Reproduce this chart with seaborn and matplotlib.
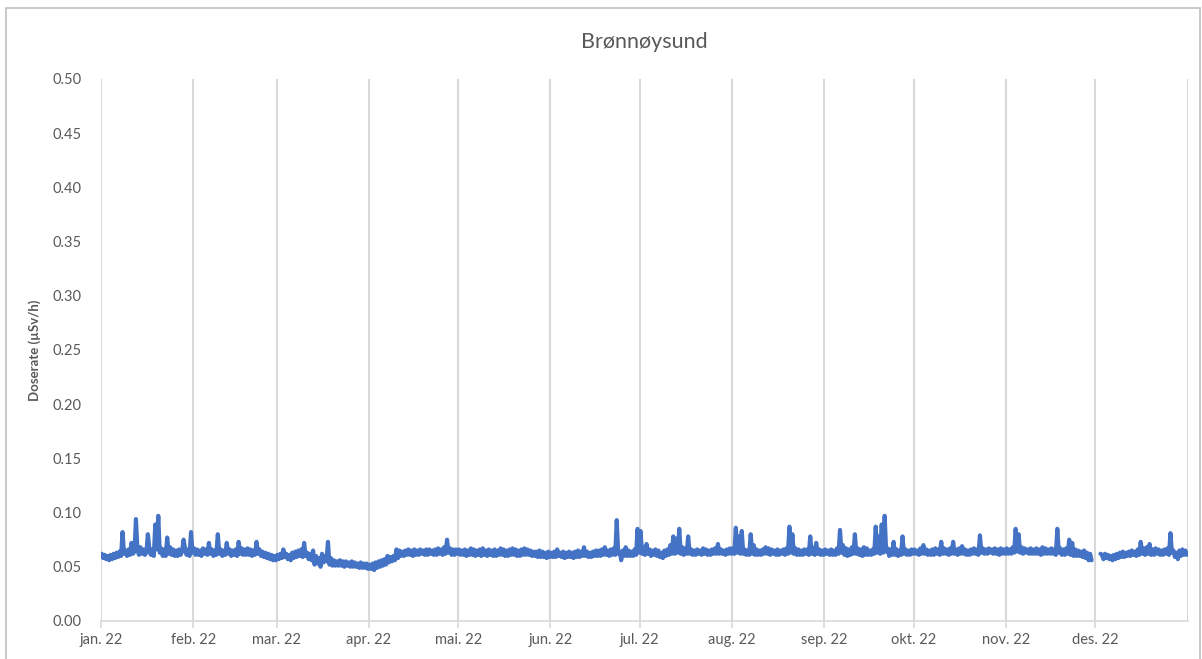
import matplotlib
matplotlib.use('Agg')
import matplotlib.pyplot as plt
from matplotlib.patches import Rectangle
import numpy as np
import pandas as pd
import seaborn as sns

# dose rate, two readings per day, in 0.001 uSv/h (None = no data)
jan = [62, 58, 61, 57, 60, 56, 61, 57, 62, 58, 63, 59, 64, 60, 82, 62, 65, 60, 66, 61,
       72, 62, 64, 94, 66, 61, 68, 62, 66, 61, 63, 80, 67, 61, 66, 60, 89, 66, 97, 63,
       67, 60, 66, 60, 77, 62, 68, 61, 66, 60, 65, 60, 66, 61, 64, 75, 67, 61, 66, 60,
       82, 63]
feb = [67, 61, 66, 61, 65, 60, 67, 62, 66, 61, 72, 62, 66, 60, 65, 61, 80, 62, 66, 60,
       65, 61, 72, 62, 66, 60, 65, 61, 66, 60, 73, 62, 67, 61, 66, 61, 67, 61, 66, 60,
       65, 61, 73, 62, 66, 60, 64, 59, 63, 58, 62, 57, 61, 56, 60, 56]
mar = [61, 57, 62, 58, 66, 59, 62, 57, 61, 56, 63, 58, 64, 59, 65, 60, 66, 59, 72, 60,
       63, 57, 62, 56, 65, 52, 60, 53, 58, 50, 62, 54, 60, 55, 73, 52, 58, 51, 56, 51,
       55, 51, 56, 51, 55, 50, 55, 51, 54, 50, 55, 50, 54, 50, 53, 49, 54, 49, 53, 49,
       53, 48]
apr = [52, 48, 53, 47, 54, 49, 55, 50, 56, 51, 57, 52, 60, 54, 59, 55, 60, 56, 66, 58,
       65, 60, 64, 60, 65, 61, 66, 61, 65, 60, 66, 61, 65, 61, 66, 62, 65, 61, 66, 61,
       66, 62, 65, 61, 66, 61, 67, 62, 66, 61, 68, 62, 75, 63, 67, 61, 66, 61, 66, 62]
mai = [66, 61, 65, 61, 66, 60, 65, 61, 67, 61, 66, 60, 65, 61, 66, 60, 67, 61, 65, 60,
       66, 61, 65, 60, 66, 60, 65, 61, 67, 61, 66, 60, 65, 60, 66, 61, 67, 61, 66, 60,
       65, 60, 66, 61, 67, 61, 66, 61, 65, 60, 64, 60, 64, 59, 65, 59, 64, 59, 63, 58,
       64, 59]
jun = [63, 59, 64, 59, 66, 60, 63, 59, 64, 58, 63, 59, 64, 59, 63, 58, 64, 59, 65, 59,
       64, 60, 68, 60, 64, 59, 63, 59, 64, 60, 65, 60, 65, 60, 66, 61, 68, 61, 65, 60,
       66, 61, 67, 61, 93, 62, 64, 56, 65, 60, 68, 60, 65, 60, 64, 60, 66, 61, 85, 63]
jul = [83, 62, 68, 61, 71, 62, 66, 60, 65, 61, 66, 60, 65, 59, 63, 58, 65, 60, 66, 61,
       70, 62, 78, 62, 76, 63, 85, 62, 68, 61, 67, 62, 78, 62, 66, 61, 65, 61, 66, 62,
       65, 61, 67, 62, 66, 61, 65, 61, 66, 62, 67, 62, 71, 62, 66, 62, 65, 61, 66, 62,
       67, 62]
aug = [67, 62, 86, 63, 78, 62, 83, 62, 66, 61, 65, 61, 80, 62, 70, 61, 66, 61, 65, 61,
       66, 62, 68, 62, 67, 61, 66, 62, 65, 61, 66, 61, 65, 62, 66, 61, 67, 62, 87, 63,
       80, 62, 67, 61, 66, 61, 65, 61, 66, 62, 66, 61, 78, 62, 67, 61, 72, 62, 66, 61,
       65, 61]
sep = [66, 62, 65, 61, 66, 61, 65, 61, 67, 62, 84, 63, 70, 61, 67, 60, 66, 61, 68, 62,
       80, 62, 67, 61, 66, 60, 68, 61, 67, 61, 65, 61, 66, 62, 87, 63, 78, 62, 89, 63,
       97, 64, 67, 60, 66, 61, 73, 61, 66, 60, 65, 61, 78, 62, 66, 61, 65, 61, 66, 62]
okt = [66, 62, 65, 61, 67, 62, 70, 62, 66, 61, 65, 61, 66, 61, 67, 62, 66, 61, 73, 62,
       67, 62, 66, 61, 67, 62, 73, 62, 66, 61, 67, 62, 69, 62, 66, 61, 65, 61, 66, 62,
       67, 62, 66, 61, 79, 63, 67, 62, 66, 62, 67, 63, 66, 62, 67, 62, 66, 61, 67, 62,
       66, 62]
nov = [67, 62, 66, 62, 68, 63, 85, 64, 80, 63, 68, 62, 67, 63, 66, 62, 67, 62, 66, 62,
       67, 62, 66, 61, 68, 62, 67, 62, 66, 62, 67, 62, 66, 61, 85, 63, 67, 61, 66, 61,
       67, 62, 75, 61, 72, 60, 66, 60, 65, 60, 64, 59, 65, 58, 63, 56, 62, 56, None, None]
des = [None, None, None, 62, 61, 57, 62, 58, 61, 57, 60, 56, 61, 57, 62, 58, 63, 59, 64, 59,
       63, 60, 64, 60, 65, 61, 64, 60, 66, 61, 73, 62, 67, 61, 68, 62, 71, 61, 66, 61,
       67, 62, 66, 61, 65, 61, 66, 62, 67, 61, 81, 63, 65, 59, 63, 57, 65, 60, 66, 61,
       65, 61]

month_labels = ['jan. 22', 'feb. 22', 'mar. 22', 'apr. 22', 'mai. 22', 'jun. 22',
                'jul. 22', 'aug. 22', 'sep. 22', 'okt. 22', 'nov. 22', 'des. 22']

values = np.array(jan + feb + mar + apr + mai + jun + jul + aug + sep + okt + nov + des,
                  dtype=float) / 1000
times = pd.date_range('2022-01-01 06:00', periods=len(values), freq='12h')
df = pd.DataFrame({'Tid': times, 'Doserate': values})
# split at missing readings so the line shows a gap
df['Segment'] = df['Doserate'].isna().cumsum()
df = df.dropna()

sns.set_style('white')
plt.rcParams['font.family'] = ['Lato', 'DejaVu Sans']

fig = plt.figure(figsize=(12.02, 6.59), dpi=100)
ax = fig.add_axes([0.084, 0.0577, 0.904, 0.8225])

grey = '#595959'
grid_col = '#d9d9d9'

sns.lineplot(data=df, x='Tid', y='Doserate', units='Segment', estimator=None,
             ax=ax, color='#4472C4', linewidth=3.0)

month_starts = pd.date_range('2022-01-01', periods=12, freq='MS')
ax.set_xlim(pd.Timestamp('2022-01-01'), pd.Timestamp('2023-01-01'))
ax.set_xticks(month_starts)
ax.set_xticklabels(month_labels)
for d in list(month_starts) + [pd.Timestamp('2023-01-01')]:
    ax.axvline(d, color=grid_col, linewidth=1.5, zorder=0)

ax.set_ylim(0, 0.5)
ax.set_yticks(np.arange(0, 0.501, 0.05))
ax.set_yticklabels([f'{v:.2f}' for v in np.arange(0, 0.501, 0.05)])

for side in ['top', 'right', 'left']:
    ax.spines[side].set_visible(False)
ax.spines['bottom'].set_color(grid_col)
ax.spines['bottom'].set_linewidth(1.2)

ax.tick_params(axis='x', length=5, width=1.2, color=grid_col, labelcolor=grey,
               labelsize=10.5, pad=4, bottom=True)
ax.tick_params(axis='y', length=0, labelcolor=grey, labelsize=10.5, pad=14)

ax.set_xlabel('')
ax.set_ylabel('Doserate (µSv/h)', fontsize=9.5, fontweight='bold', color=grey, labelpad=8)
ax.set_title('Brønnøysund', fontsize=15.5, color=grey, pad=22)

fig.patches.append(Rectangle((0.005, -0.01), 0.993, 0.998, transform=fig.transFigure,
                             fill=False, edgecolor='#bfbfbf', linewidth=1.2))

fig.savefig('out.png', dpi=100)
